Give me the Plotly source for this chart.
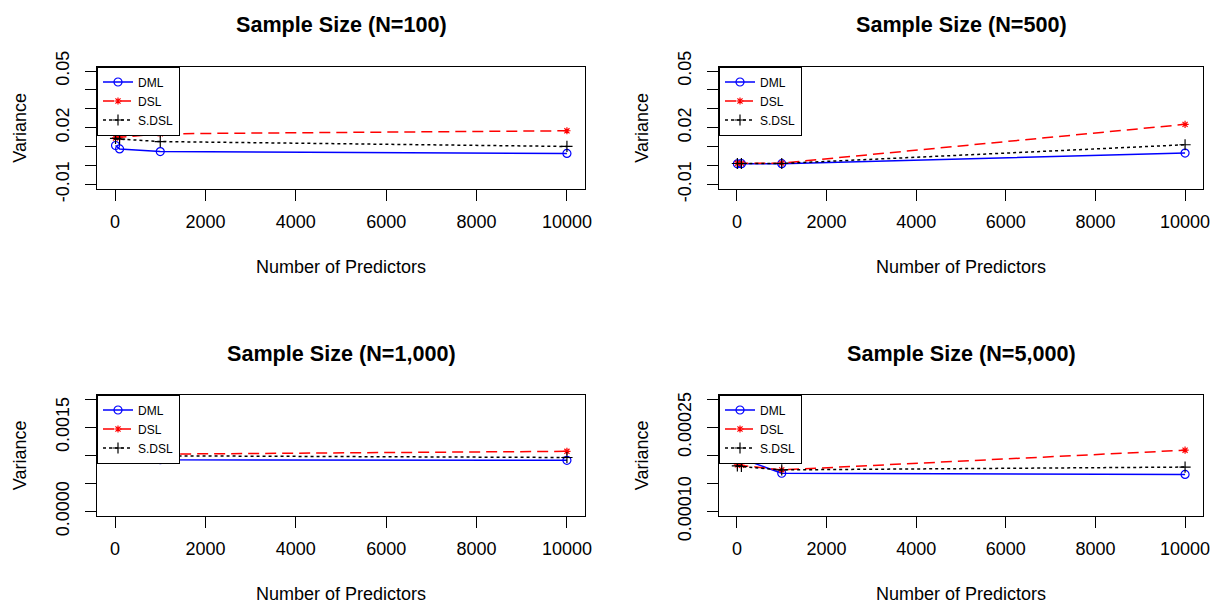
import plotly.graph_objects as go

# Number of predictors at which each method was evaluated
predictors = [10, 100, 1000, 10000]

# Variance estimates, one list per method and sample size
dml_n100 = [0.0106, 0.0088, 0.0074, 0.0064]
dsl_n100 = [0.0146, 0.0150, 0.0168, 0.0184]
sdsl_n100 = [0.0144, 0.0140, 0.0127, 0.0101]

dml_n500 = [0.0009, 0.0010, 0.0010, 0.0066]
dsl_n500 = [0.0012, 0.0012, 0.0013, 0.0218]
sdsl_n500 = [0.0011, 0.0011, 0.0011, 0.0110]

dml_n1000 = [0.00125, 0.00096, 0.00092, 0.00091]
dsl_n1000 = [0.00115, 0.00104, 0.00102, 0.00107]
sdsl_n1000 = [0.00122, 0.00100, 0.00099, 0.00096]

dml_n5000 = [0.000199, 0.000194, 0.000168, 0.000166]
dsl_n5000 = [0.000183, 0.000182, 0.000174, 0.000209]
sdsl_n5000 = [0.000181, 0.000180, 0.000174, 0.000179]

panel_titles = ["Sample Size (N=100)", "Sample Size (N=500)",
                "Sample Size (N=1,000)", "Sample Size (N=5,000)"]
method_names = ["DML", "DSL", "S.DSL"]

# Axis ticks (labels left blank where they would collide)
x_tickvals = [0, 2000, 4000, 6000, 8000, 10000]
x_ticktext = ["0", "2000", "4000", "6000", "8000", "10000"]
y_tickvals_top = [-0.01, 0.0, 0.01, 0.02, 0.03, 0.04, 0.05]
y_ticktext_top = ["-0.01", "", "", "0.02", "", "", "0.05"]
y_tickvals_n1000 = [0.0, 0.0005, 0.0010, 0.0015, 0.0020]
y_ticktext_n1000 = ["0.0000", "", "", "0.0015", ""]
y_tickvals_n5000 = [0.00010, 0.00015, 0.00020, 0.00025, 0.00030]
y_ticktext_n5000 = ["0.00010", "", "", "0.00025", ""]

W, H = 1212, 605
FONT = "Liberation Sans, Arial, sans-serif"

# Plot boxes in pixels: (left, right, top, bottom)
boxes = [(97, 585, 66.5, 189), (719, 1203, 66.5, 189),
         (97, 585, 394.5, 516), (719, 1203, 394.5, 516)]

panels = [
    (dml_n100, dsl_n100, sdsl_n100, y_tickvals_top, y_ticktext_top),
    (dml_n500, dsl_n500, sdsl_n500, y_tickvals_top, y_ticktext_top),
    (dml_n1000, dsl_n1000, sdsl_n1000, y_tickvals_n1000, y_ticktext_n1000),
    (dml_n5000, dsl_n5000, sdsl_n5000, y_tickvals_n5000, y_ticktext_n5000),
]

styles = [
    dict(color="#0000ff", dash="solid", symbol="circle-open", size=8),
    dict(color="#ff0000", dash="11px,6px", symbol="asterisk-open", size=6),
    dict(color="#000000", dash="3px,3px", symbol="cross-thin-open", size=8),
]

fig = go.Figure()
layout = dict(
    width=W, height=H,
    margin=dict(l=0, r=0, t=0, b=0, autoexpand=False),
    paper_bgcolor="white", plot_bgcolor="white",
    font=dict(family=FONT, color="black", size=18),
    annotations=[],
)


def pad_range(lo, hi):
    d = (hi - lo) * 0.04
    return [lo - d, hi + d]


for i, (dml, dsl, sdsl, yvals, ytext) in enumerate(panels):
    n = i + 1
    xa = "x" if n == 1 else f"x{n}"
    ya = "y" if n == 1 else f"y{n}"
    lg = "legend" if n == 1 else f"legend{n}"
    left, right, top, bottom = boxes[i]

    for name, yv, st in zip(method_names, [dml, dsl, sdsl], styles):
        fig.add_trace(go.Scatter(
            x=predictors, y=yv, name=name, mode="lines+markers",
            xaxis=xa, yaxis=ya, legend=lg,
            line=dict(color=st["color"], dash=st["dash"], width=1.5),
            marker=dict(symbol=st["symbol"], size=st["size"],
                        color=st["color"], line=dict(width=1.2, color=st["color"])),
        ))

    xdom = [left / W, right / W]
    ydom = [1 - bottom / H, 1 - top / H]
    common = dict(showline=True, mirror=True, linecolor="black", linewidth=1,
                  ticks="outside", ticklen=11, tickcolor="black", tickwidth=1,
                  showgrid=False, zeroline=False, fixedrange=True, automargin=False,
                  ticklabeloverflow="allow",
                  tickfont=dict(family=FONT, size=18, color="black"))
    layout["xaxis" if n == 1 else f"xaxis{n}"] = dict(
        domain=xdom, range=pad_range(0, 10000), anchor=ya,
        tickmode="array", tickvals=x_tickvals, ticktext=x_ticktext,
        ticklabelstandoff=5, **common)
    layout["yaxis" if n == 1 else f"yaxis{n}"] = dict(
        domain=ydom, range=pad_range(yvals[0], yvals[-1]), anchor=xa,
        tickmode="array", tickvals=yvals, ticktext=ytext, tickangle=-90,
        ticklabelstandoff=9, **common)

    layout[lg] = dict(
        x=left / W, y=1 - top / H, xanchor="left", yanchor="top",
        xref="paper", yref="paper",
        bordercolor="black", borderwidth=1, bgcolor="white",
        font=dict(family=FONT, size=12, color="black"),
        tracegroupgap=0, itemwidth=30,
    )

    cx = (left + right) / 2 / W
    layout["annotations"] += [
        dict(text=f"<b>{panel_titles[i]}</b>", x=cx, y=1 - (top - 41.5) / H,
             xref="paper", yref="paper", showarrow=False,
             xanchor="center", yanchor="middle",
             font=dict(family=FONT, size=21.6, color="black")),
        dict(text="Number of Predictors", x=cx, y=1 - (bottom + 78) / H,
             xref="paper", yref="paper", showarrow=False,
             xanchor="center", yanchor="middle",
             font=dict(family=FONT, size=18, color="black")),
        dict(text="Variance", x=(left - 77) / W, y=1 - (top + bottom) / 2 / H,
             xref="paper", yref="paper", showarrow=False, textangle=-90,
             xanchor="center", yanchor="middle",
             font=dict(family=FONT, size=18, color="black")),
    ]

fig.update_layout(**layout)
fig.write_html("out.html")
